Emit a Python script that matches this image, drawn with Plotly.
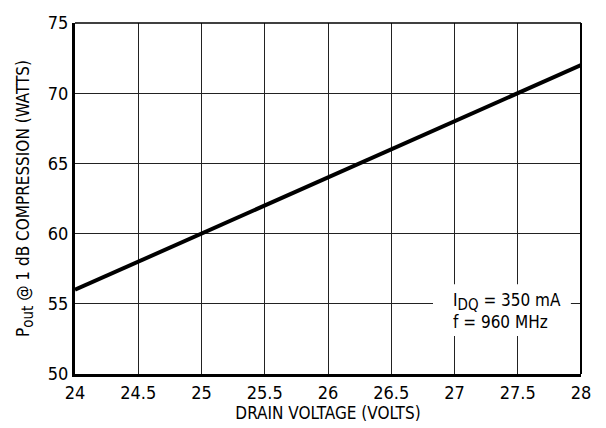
import plotly.graph_objects as go

drain_voltage = [24, 28]
pout_watts = [56, 72]
x_ticks = [24, 24.5, 25, 25.5, 26, 26.5, 27, 27.5, 28]
x_tick_labels = ["24", "24.5", "25", "25.5", "26", "26.5", "27", "27.5", "28"]
y_ticks = [50, 55, 60, 65, 70, 75]
y_tick_labels = ["50", "55", "60", "65", "70", "75"]

FONT = "DejaVu Sans Condensed, Liberation Sans Narrow, Liberation Sans, sans-serif"

fig = go.Figure()
fig.add_trace(go.Scatter(x=drain_voltage, y=pout_watts, mode="lines",
                         line=dict(color="black", width=4), showlegend=False,
                         hoverinfo="skip"))

# white box behind annotation
fig.add_shape(type="rect", xref="x", yref="y", x0=26.83, x1=27.92, y0=52.7, y1=56.4,
              fillcolor="white", line=dict(width=0), layer="above")
fig.add_annotation(x=26.97, y=54.5, xref="x", yref="y", xanchor="left", yanchor="middle",
                   align="left", showarrow=False,
                   text="I<sub><span style='font-size:15px'>DQ</span></sub> = 350 mA<br>f = 960 MHz",
                   font=dict(family=FONT, size=17, color="black"))

# thin top and right frame lines
fig.add_shape(type="line", xref="paper", yref="paper", x0=0, x1=1, y0=1, y1=1,
              line=dict(color="black", width=1.5))
fig.add_shape(type="line", xref="paper", yref="paper", x0=1, x1=1, y0=0, y1=1,
              line=dict(color="black", width=2))

fig.update_layout(
    width=606, height=428,
    margin=dict(l=75, r=25, t=14, b=54),
    plot_bgcolor="white", paper_bgcolor="white",
    font=dict(family=FONT, size=18, color="black"),
    xaxis=dict(range=[24, 28], tickvals=x_ticks, ticktext=x_tick_labels,
               showgrid=True, gridcolor="#222", gridwidth=1,
               showline=True, linecolor="black", linewidth=3,
               ticks="", zeroline=False, fixedrange=True,
               tickfont=dict(size=18),
               title=dict(text="DRAIN VOLTAGE (VOLTS)", standoff=2,
                          font=dict(size=17))),
    yaxis=dict(range=[50, 75], tickvals=y_ticks, ticktext=y_tick_labels,
               showgrid=True, gridcolor="#222", gridwidth=1,
               showline=True, linecolor="black", linewidth=3,
               ticks="", zeroline=False, fixedrange=True,
               tickfont=dict(size=18),
               title=dict(text="P<sub><span style='font-size:15px'>out</span></sub> @ 1 dB COMPRESSION (WATTS)",
                          standoff=14, font=dict(size=17))),
)

fig.write_html("out.html")
